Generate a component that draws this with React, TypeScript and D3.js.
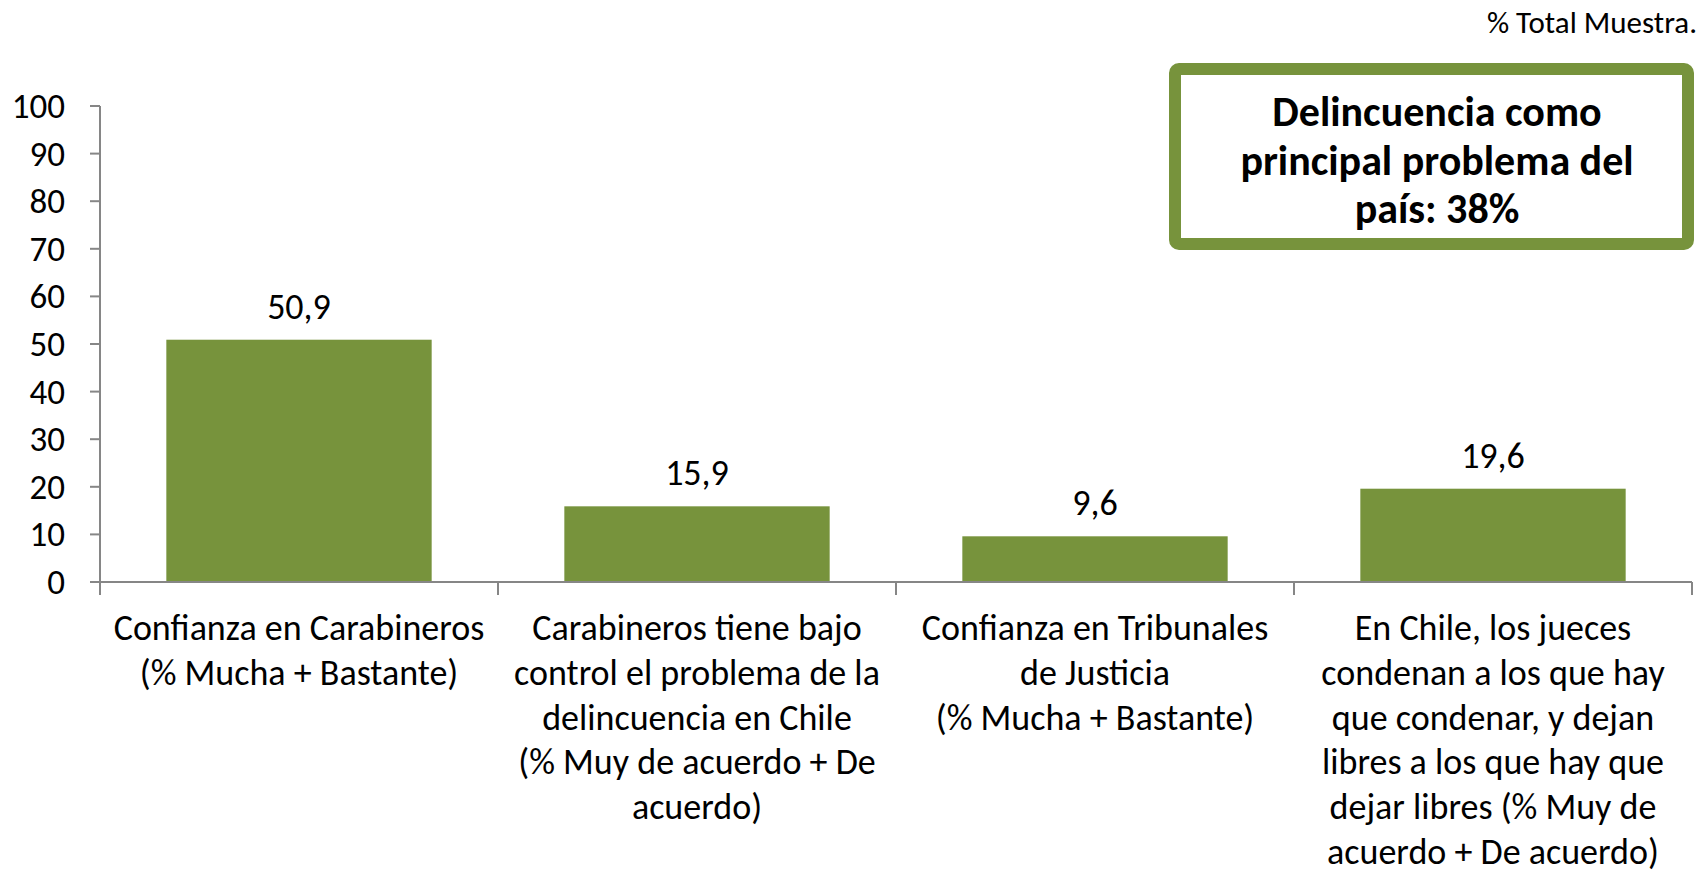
import React, { useEffect } from "react";
import * as d3 from "d3";

const categories: string[][] = [
  ["Confianza en Carabineros", "(% Mucha + Bastante)"],
  ["Carabineros tiene bajo", "control el problema de la", "delincuencia en Chile", "(% Muy de acuerdo + De", "acuerdo)"],
  ["Confianza en Tribunales", "de Justicia", "(% Mucha + Bastante)"],
  ["En Chile, los jueces", "condenan a los que hay", "que condenar, y dejan", "libres a los que hay que", "dejar libres (% Muy de", "acuerdo + De acuerdo)"],
];
const values: number[] = [50.9, 15.9, 9.6, 19.6];
const valueLabels: string[] = ["50,9", "15,9", "9,6", "19,6"];
const yTicks: number[] = [0, 10, 20, 30, 40, 50, 60, 70, 80, 90, 100];
const boxLines: string[] = ["Delincuencia como", "principal problema del", "país: 38%"];
const noteText = "% Total Muestra.";

const W = 1700;
const H = 875;
const FONT = "Carlito, Calibri, Lato, 'Open Sans', sans-serif";
const GREEN = "#77933C";
const AXIS = "#868686";

export default function App() {
  useEffect(() => {
    document.body.style.margin = "0";
  }, []);

  const left = 100;
  const right = 1692;
  const y0 = 582;
  const y100 = 106;

  const x = d3
    .scaleBand<number>()
    .domain(d3.range(categories.length))
    .range([left, right])
    .paddingInner(1 / 3)
    .paddingOuter(1 / 6);
  const step = (right - left) / categories.length;
  const y = d3.scaleLinear().domain([0, 100]).range([y0, y100]);

  const boundaries = d3.range(categories.length + 1).map((i) => left + i * step);

  return (
    <svg width={W} height={H} style={{ display: "block", background: "#fff" }} fontFamily={FONT}>
      {/* note */}
      <text x={1697} y={33} fontSize={31} textAnchor="end" fill="#000">
        {noteText}
      </text>

      {/* y axis */}
      <line x1={left} x2={left} y1={y(100)} y2={y0 + 13} stroke={AXIS} strokeWidth={2} />
      {yTicks.map((t) => (
        <g key={t}>
          <line x1={left - 10} x2={left} y1={y(t)} y2={y(t)} stroke={AXIS} strokeWidth={2} />
          <text x={65} y={y(t) + 12} fontSize={35} textAnchor="end" fill="#000">
            {t}
          </text>
        </g>
      ))}

      {/* bars */}
      {values.map((v, i) => (
        <g key={i}>
          <rect x={x(i)} y={y(v)} width={x.bandwidth()} height={y0 - y(v)} fill={GREEN} />
          <text
            x={(x(i) as number) + x.bandwidth() / 2}
            y={y(v) - 21}
            fontSize={36}
            textAnchor="middle"
            fill="#000"
          >
            {valueLabels[i]}
          </text>
        </g>
      ))}

      {/* x axis */}
      <line x1={left - 10} x2={right} y1={y0} y2={y0} stroke={AXIS} strokeWidth={2} />
      {boundaries.map((b, i) => (
        <line key={i} x1={b} x2={b} y1={y0} y2={y0 + 13} stroke={AXIS} strokeWidth={2} />
      ))}

      {/* category labels */}
      {categories.map((lines, i) => (
        <text
          key={i}
          x={(x(i) as number) + x.bandwidth() / 2}
          fontSize={36}
          textAnchor="middle"
          fill="#000"
        >
          {lines.map((l, j) => (
            <tspan key={j} x={(x(i) as number) + x.bandwidth() / 2} y={640 + j * 44.8}>
              {l}
            </tspan>
          ))}
        </text>
      ))}

      {/* annotation box */}
      <rect x={1175} y={69} width={513} height={175} rx={4} fill="#fff" stroke={GREEN} strokeWidth={12} />
      <text fontSize={42} fontWeight="bold" textAnchor="middle" fill="#000">
        {boxLines.map((l, j) => (
          <tspan key={j} x={1437} y={126 + j * 48.5}>
            {l}
          </tspan>
        ))}
      </text>
    </svg>
  );
}
